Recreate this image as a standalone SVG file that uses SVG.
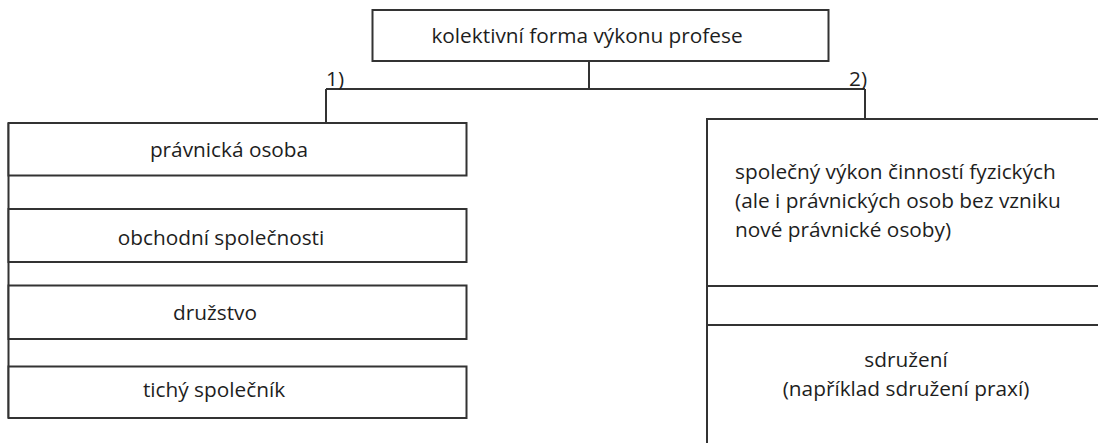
<svg xmlns="http://www.w3.org/2000/svg" width="1098" height="443" viewBox="0 0 1098 443">
<style>
.box{fill:#ffffff;stroke:#333333;stroke-width:2}
.ln{fill:none;stroke:#333333;stroke-width:2}
text{font-family:"Open Sans","Noto Sans",sans-serif;font-size:20.8px;fill:#1e1e1e}
.c{text-anchor:middle}
</style>
<rect width="1098" height="443" fill="#ffffff"/>
<g id="connectors">
<path class="ln" d="M589 61V89M326 89H865M326 89V123M865 89V119"/>
<path class="ln" d="M8.5 123V418"/>
<text x="326" y="86" font-size="18">1)</text>
<text x="849" y="86" font-size="18">2)</text>
</g>
<g id="root">
<rect class="box" x="372.5" y="10" width="456" height="51"/>
<text class="c" x="587" y="43">kolektivní forma výkonu profese</text>
</g>
<g id="pravnicka-osoba">
<rect class="box" x="8.5" y="123" width="458" height="52.5"/>
<text class="c" x="229" y="157">právnická osoba</text>
</g>
<g id="obchodni-spolecnosti">
<rect class="box" x="8.5" y="209" width="458" height="53"/>
<text class="c" x="221" y="245">obchodní společnosti</text>
</g>
<g id="druzstvo">
<rect class="box" x="8.5" y="285.5" width="458" height="53.5"/>
<text class="c" x="215" y="320">družstvo</text>
</g>
<g id="tichy-spolecnik">
<rect class="box" x="8.5" y="366.5" width="458" height="51.5"/>
<text class="c" x="214" y="397">tichý společník</text>
</g>
<g id="spolecny-vykon">
<rect class="box" x="707" y="119" width="400" height="167"/>
<text x="735" y="179">společný výkon činností fyzických</text>
<text x="735" y="208">(ale i právnických osob bez vzniku</text>
<text x="735" y="237">nové právnické osoby)</text>
</g>
<g id="sdruzeni">
<rect class="box" x="707" y="325" width="400" height="130"/>
<text class="c" x="906" y="367">sdružení</text>
<text class="c" x="906" y="396">(například sdružení praxí)</text>
</g>
<path class="ln" d="M707 286V325"/>
</svg>
